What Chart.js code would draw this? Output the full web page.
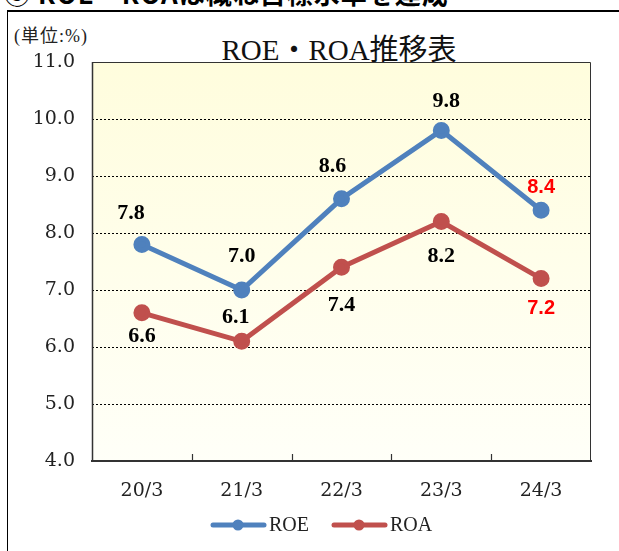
<!DOCTYPE html>
<html>
<head>
<meta charset="utf-8">
<script src="https://cdn.jsdelivr.net/npm/chart.js@4.4.1/dist/chart.umd.min.js"></script>
<style>
  body { margin: 0; width: 619px; height: 551px; background: #fff; position: relative; overflow: hidden; }
  #heading { position: absolute; left: 4px; top: -26px; font: bold 26px "Noto Sans CJK JP", sans-serif; color: #000; white-space: nowrap; letter-spacing: 1px; }
  #box { position: absolute; left: 7px; top: 10px; width: 700px; height: 700px; border-top: 2px solid #000; border-left: 1.5px solid #000; }
  #unit { position: absolute; left: 14px; top: 21px; font: 18px "Liberation Serif", "Noto Sans CJK JP", serif; color: #222; letter-spacing: 1px; }
  #title { position: absolute; left: 0; width: 678px; top: 26px; text-align: center; font: 29px "Liberation Serif", "Noto Sans CJK JP", serif; color: #111; }
  canvas { position: absolute; left: 0; top: 0; }
</style>
</head>
<body>
<div id="heading">⑤ ROE・ROAは概ね目標水準を達成</div>
<div id="box"></div>
<div id="unit">(単位:%)</div>
<div id="title">ROE・ROA推移表</div>
<canvas id="chart" width="619" height="551"></canvas>
<script>
// データ
const years = ["20/3", "21/3", "22/3", "23/3", "24/3"];
const roe = [7.8, 7.0, 8.6, 9.8, 8.4];
const roa = [6.6, 6.1, 7.4, 8.2, 7.2];
const yTicks = [4, 5, 6, 7, 8, 9, 10, 11];

// ラベル位置 (点からのずれ)
const roeOffsets = [[-11, -31], [0, -34], [-9, -32], [5, -29], [0, -23]];
const roaOffsets = [[0, 24], [-6, -24], [0, 38], [0, 35], [0, 30]];
const blue = "#4F81BD";
const red = "#C0504D";

const serif = '"DejaVu Serif", "Liberation Serif", serif';

/* 背景と枠 */
const plotBg = {
  id: "plotBg",
  beforeDraw(chart) {
    const { ctx, chartArea: a } = chart;
    const g = ctx.createLinearGradient(0, a.top, 0, a.bottom);
    g.addColorStop(0, "#FFFDDD");
    g.addColorStop(1, "#FFFFF8");
    ctx.save();
    ctx.fillStyle = g;
    ctx.fillRect(a.left, a.top, a.right - a.left, a.bottom - a.top);
    ctx.restore();
  },
  afterDatasetsDraw(chart) {
    const { ctx, chartArea: a, scales } = chart;
    ctx.save();
    ctx.strokeStyle = "#333";
    ctx.lineWidth = 1;
    ctx.beginPath();
    ctx.moveTo(a.left, a.top + 0.5);
    ctx.lineTo(a.right - 0.5, a.top + 0.5);
    ctx.lineTo(a.right - 0.5, a.bottom);
    ctx.stroke();
    ctx.lineWidth = 1.5;
    ctx.beginPath();
    ctx.moveTo(a.left + 0.5, a.top);
    ctx.lineTo(a.left + 0.5, a.bottom);
    ctx.stroke();
    // 内向きの目盛
    ctx.lineWidth = 1.2;
    ctx.beginPath();
    for (let i = 0; i < years.length - 1; i++) {
      const x = Math.round((scales.x.getPixelForValue(i) + scales.x.getPixelForValue(i + 1)) / 2) + 0.5;
      ctx.moveTo(x, a.bottom);
      ctx.lineTo(x, a.bottom - 7);
    }
    ctx.stroke();
    ctx.restore();
  }
};

/* 数値ラベル */
const valueLabels = {
  id: "valueLabels",
  afterDatasetsDraw(chart) {
    const ctx = chart.ctx;
    const offs = [roeOffsets, roaOffsets];
    ctx.save();
    ctx.textAlign = "center";
    ctx.textBaseline = "middle";
    chart.data.datasets.forEach((ds, di) => {
      chart.getDatasetMeta(di).data.forEach((pt, i) => {
        const last = i === ds.data.length - 1;
        ctx.fillStyle = last ? "#FF0000" : "#000";
        ctx.font = last ? 'bold 20px "Liberation Sans", Arial, sans-serif' : 'bold 22px "Liberation Serif", serif';
        ctx.fillText(ds.data[i].toFixed(1), pt.x + offs[di][i][0], pt.y + offs[di][i][1]);
      });
    });
    ctx.restore();
  }
};

/* 凡例 */
const legendBox = {
  id: "legendBox",
  afterDraw(chart) {
    const ctx = chart.ctx;
    const y = 525;
    const items = [{ x: 211, text: "ROE", color: blue }, { x: 332, text: "ROA", color: red }];
    ctx.save();
    items.forEach(it => {
      ctx.strokeStyle = it.color;
      ctx.lineWidth = 5;
      ctx.lineCap = "round";
      ctx.beginPath();
      ctx.moveTo(it.x + 2, y);
      ctx.lineTo(it.x + 53, y);
      ctx.stroke();
      ctx.fillStyle = it.color;
      ctx.beginPath();
      ctx.arc(it.x + 27, y, 5.5, 0, Math.PI * 2);
      ctx.fill();
      ctx.fillStyle = "#222";
      ctx.font = '20px "Liberation Serif", serif';
      ctx.textBaseline = "middle";
      ctx.fillText(it.text, it.x + 58, y + 1);
    });
    ctx.restore();
  }
};

new Chart(document.getElementById("chart"), {
  type: "line",
  data: {
    labels: years,
    datasets: [
      { label: "ROE", data: roe, borderColor: blue, backgroundColor: blue, borderWidth: 5, pointRadius: 6, pointHoverRadius: 6 },
      { label: "ROA", data: roa, borderColor: red, backgroundColor: red, borderWidth: 5, pointRadius: 6, pointHoverRadius: 6 }
    ]
  },
  options: {
    responsive: false,
    animation: false,
    layout: { padding: { top: 62, right: 28, left: 0, bottom: 0 } },
    plugins: { legend: { display: false }, tooltip: { enabled: false } },
    scales: {
      x: {
        offset: true,
        grid: { display: false, drawTicks: false },
        border: { display: true, color: "#333", width: 2 },
        ticks: { color: "#222", font: { family: serif, size: 19 }, padding: 19 },
        afterFit(s) { s.height = 90; }
      },
      y: {
        min: 4,
        max: 11,
        afterBuildTicks(s) { s.ticks = yTicks.map(v => ({ value: v })); },
        grid: {
          color: c => (c.tick.value === 4 || c.tick.value === 11) ? "rgba(0,0,0,0)" : "#000",
          lineWidth: 1,
          drawTicks: false
        },
        border: { display: false, dash: [2, 2] },
        ticks: { color: "#222", font: { family: serif, size: 19 }, padding: 17, callback: v => Number(v).toFixed(1) },
        afterFit(s) { s.width = 92; }
      }
    }
  },
  plugins: [plotBg, valueLabels, legendBox]
});
</script>
</body>
</html>
